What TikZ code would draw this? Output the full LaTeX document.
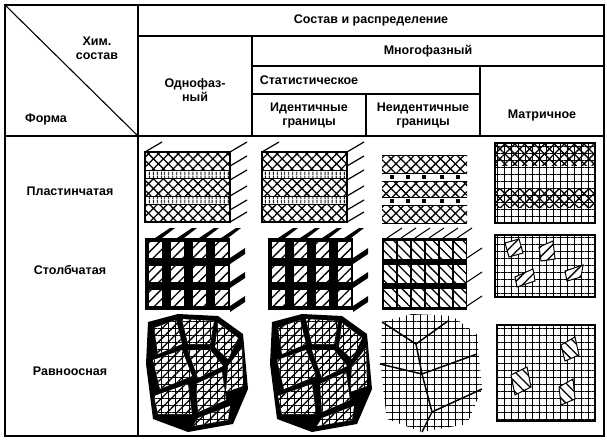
\documentclass[tikz,border=0pt]{standalone}
\usepackage{fontspec}
\setmainfont{Liberation Sans}
\usetikzlibrary{patterns.meta}
\tikzset{
  rule/.style={line width=1.1pt},
  head/.style={align=center,font=\bfseries\fontsize{12.5}{14}\selectfont},
  lbl/.style={font=\bfseries\fontsize{12.5}{14}\selectfont},
  xhatch/.style={pattern={Lines[angle=45,distance=7pt,line width=1.3pt]}},
  yhatch/.style={pattern={Lines[angle=-45,distance=7pt,line width=1.3pt]}},
  vbars/.style={pattern={Lines[angle=90,distance=4pt,line width=1pt]}},
  gridfill/.style={pattern={Hatch[angle=0,distance=7pt,line width=1pt]}},
}
% plate block: #1 = x, #2 = y (top left of front face)
\newcommand\plateblock[2]{%
  \begin{scope}[shift={(#1,#2)}]
    \fill[xhatch] (0,0) rectangle (85,70);
    \fill[yhatch] (0,0) rectangle (85,70);
    \foreach \b in {18,44}{
      \fill[white] (0,\b) rectangle (85,\b+8);
      \fill[vbars] (0,\b) rectangle (85,\b+8);
      \draw[line width=1pt] (0,\b) -- (85,\b) (0,\b+8) -- (85,\b+8);}
    \draw[line width=1.2pt] (0,0) rectangle (85,70);
    \foreach \s in {0,14,28,44,58,70}
      \draw[line width=1.2pt] (85,\s) -- (102,\s-10);
    \draw[line width=1.2pt] (0,0) -- (17,-10);
  \end{scope}}
% column block
\newcommand\colblock[2]{%
  \begin{scope}[shift={(#1,#2)}]
    \fill (0,0) rectangle (85,72);
    \foreach \i in {0,1,2,3}
      \foreach \j in {0,1,2}{
        \fill[white] (4+\i*22,4+\j*24) rectangle (17+\i*22,20+\j*24);
        \fill[xhatch] (4+\i*22,4+\j*24) rectangle (17+\i*22,20+\j*24);}
    \foreach \i in {0,1,2,3}
      \fill (10+\i*22,0) -- (25+\i*22,-10) -- (30+\i*22,-10) -- (17+\i*22,0) -- cycle;
    \foreach \j in {0,1,2}
      \fill (85,20+\j*24) -- (100,10+\j*24) -- (100,16+\j*24) -- (85,26+\j*24) -- cycle;
  \end{scope}}
% equiaxed grains
\newcommand\grains[2]{%
  \begin{scope}[shift={(#1,#2)}]
    \fill (0,8) -- (30,0) -- (70,2) -- (95,20) -- (100,75) -- (85,110) -- (40,118) -- (5,105) -- (-2,50) -- cycle;
    \foreach \p in {
      {(6,14) -- (28,6) -- (34,30) -- (10,40)},
      {(34,5) -- (66,7) -- (62,30) -- (40,30)},
      {(70,9) -- (90,24) -- (80,45) -- (67,33)},
      {(5,46) -- (34,36) -- (44,62) -- (12,75)},
      {(40,36) -- (62,36) -- (75,52) -- (50,64)},
      {(80,52) -- (94,34) -- (95,72) -- (78,78)},
      {(6,82) -- (40,70) -- (44,100) -- (10,100)},
      {(48,70) -- (74,58) -- (78,86) -- (50,98)},
      {(50,104) -- (82,92) -- (80,106) -- (45,112)}}
      {\fill[white] \p -- cycle;
       \fill[gridfill] \p -- cycle;
       \fill[xhatch] \p -- cycle;}
  \end{scope}}
\begin{document}
\begin{tikzpicture}[x=1pt,y=-1pt]
  \useasboundingbox (0,0) rectangle (607,441);
  \coordinate (tl) at (5,5);
  \coordinate (br) at (604,436);
  % frame and header rules
  \draw[rule] (tl) rectangle (br);
  \draw[rule] (138,5) -- (138,436);
  \draw[rule] (5,136) -- (604,136);
  \draw[rule] (138,36) -- (604,36);
  \draw[rule] (252,66) -- (604,66);
  \draw[rule] (252,94) -- (480,94);
  \draw[rule] (252,36) -- (252,136);
  \draw[rule] (366,94) -- (366,136);
  \draw[rule] (480,66) -- (480,136);
  \draw[rule] (tl) -- (138,136);
  % header texts
  \node[head] (sost) at (371,20) {Состав и распределение};
  \node[head] (mnogo) at (428,51) {Многофазный};
  \node[head] (stat) at (309,80) {Статистическое};
  \node[head] (odno) at (195,90) {Однофаз-\\ный};
  \node[head] (ident) at (309,115) {Идентичные\\границы};
  \node[head] (neid) at (423,115) {Неидентичные\\границы};
  \node[head] (matr) at (542,115) {Матричное};
  \node[lbl,align=center] (him) at (97,48) {Хим.\\состав};
  \node[lbl] (forma) at (46,119) {Форма};
  % row labels
  \node[lbl] (plast) at (70,191) {Пластинчатая};
  \node[lbl] (stolb) at (70,270) {Столбчатая};
  \node[lbl] (ravno) at (70,371) {Равноосная};
  % row 1
  \plateblock{145}{152}
  \plateblock{262}{152}
  \begin{scope}[shift={(382,155)}]
    \fill[xhatch] (0,0) rectangle (85,68);
    \fill[yhatch] (0,0) rectangle (85,68);
    \foreach \b in {18,42}{
      \fill[white] (0,\b) rectangle (85,\b+8);
      \draw[line width=1pt] (0,\b) -- (85,\b) (0,\b+8) -- (85,\b+8);
      \foreach \d in {8,24,40,58,74} \fill (\d,\b+2) rectangle (\d+4,\b+6);}
    \draw[line width=1pt] (0,0) -- (85,0) (0,68) -- (85,68);
  \end{scope}
  \begin{scope}[shift={(495,143)}]
    \fill[gridfill] (0,0) rectangle (100,80);
    \fill[xhatch] (0,0) rectangle (100,22);
    \fill[yhatch] (0,0) rectangle (100,22);
    \fill[xhatch] (0,46) rectangle (100,64);
    \fill[yhatch] (0,46) rectangle (100,64);
    \draw[line width=1.2pt] (0,0) rectangle (100,80);
  \end{scope}
  % row 2
  \colblock{145}{238}
  \colblock{268}{238}
  \begin{scope}[shift={(382,238)}]
    \fill (0,0) rectangle (85,72);
    \foreach \i in {0,...,5}
      \foreach \j in {0,1,2}{
        \fill[white] (2+\i*14,3+\j*24) rectangle (14+\i*14,21+\j*24);
        \fill[yhatch] (2+\i*14,3+\j*24) rectangle (14+\i*14,21+\j*24);}
    \foreach \i in {0,...,5}
      \draw[line width=1pt] (5+\i*14,0) -- (20+\i*14,-10);
    \foreach \j in {0,1,2}
      \draw[line width=1pt] (85,20+\j*24) -- (100,10+\j*24);
  \end{scope}
  \begin{scope}[shift={(495,235)}]
    \fill[gridfill] (0,0) rectangle (100,62);
    \draw[line width=1.2pt] (0,0) rectangle (100,62);
    \foreach \p in {{(10,8) -- (24,4) -- (28,18) -- (14,22)},
                    {(44,12) -- (58,6) -- (60,24) -- (46,26)},
                    {(20,42) -- (38,34) -- (40,46) -- (22,52)},
                    {(70,36) -- (88,30) -- (86,42) -- (72,46)}}
      {\fill[white] \p -- cycle; \fill[xhatch] \p -- cycle; \draw[line width=1pt] \p -- cycle;}
  \end{scope}
  % row 3
  \grains{148}{314}
  \grains{272}{314}
  \begin{scope}[shift={(382,314)}]
    \fill[gridfill] (0,8) -- (30,0) -- (70,2) -- (95,20) -- (100,75) -- (85,110) -- (40,118) -- (5,105) -- (-2,50) -- cycle;
    \foreach \p in {{(0,8) -- (34,30) -- (66,7)},{(34,30) -- (40,60) -- (95,40)},
                    {(-2,50) -- (40,60) -- (50,98) -- (40,118)},{(50,98) -- (100,75)}}
      \draw[line width=1.5pt] \p;
  \end{scope}
  \begin{scope}[shift={(497,325)}]
    \fill[gridfill] (0,0) rectangle (98,96);
    \draw[line width=1.2pt] (0,0) rectangle (98,96);
    \foreach \p in {{(14,50) -- (30,42) -- (34,62) -- (18,70)},
                    {(64,20) -- (78,12) -- (82,30) -- (68,36)},
                    {(62,62) -- (76,54) -- (78,74) -- (64,80)}}
      {\fill[white] \p -- cycle; \fill[yhatch] \p -- cycle; \draw[line width=1pt] \p -- cycle;}
  \end{scope}
\end{tikzpicture}
\end{document}
